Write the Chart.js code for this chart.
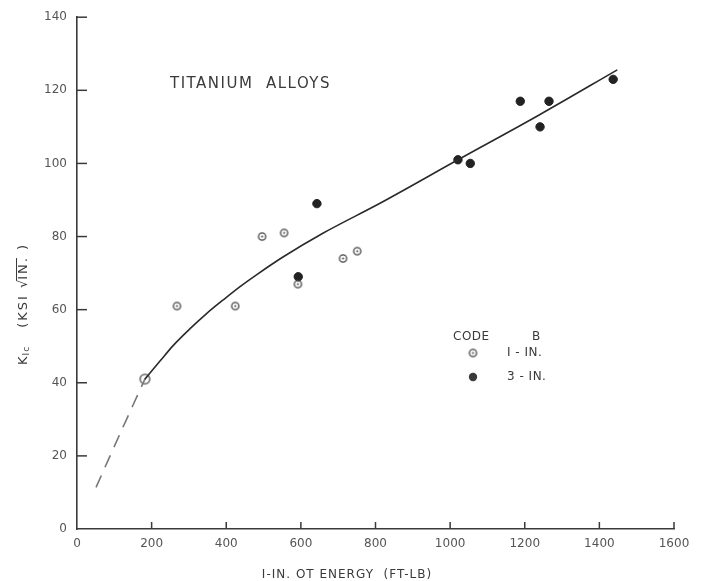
<!DOCTYPE html>
<html>
<head>
<meta charset="utf-8">
<script src="https://cdn.jsdelivr.net/npm/chart.js@4/dist/chart.umd.min.js"></script>
<style>
  html, body { margin: 0; padding: 0; background: #fff; }
  #wrap { width: 704px; height: 581px; position: relative; }
</style>
</head>
<body>
<div id="wrap"><canvas id="chart" width="704" height="581"></canvas></div>
<script>
// 1-in. specimens (open circle with dot)
const oneInX = [268, 424, 496, 555, 592, 713, 751];
const oneInY = [61, 61, 80, 81, 67, 74, 76];
// 3-in. specimens (solid)
const threeInX = [593, 643, 1021, 1054, 1188, 1241, 1265, 1437];
const threeInY = [69, 89, 101, 100, 117, 110, 117, 123];
// the low point that sits on the curve
const anchorX = [182];
const anchorY = [41];
// fitted curve (solid part) and extrapolation (dashed)
const curveX = [182, 223, 257, 303, 348, 391, 437, 482, 552, 659, 812, 1021, 1241, 1448];
const curveY = [41, 46, 50.1, 54.8, 59, 62.6, 66.3, 69.6, 74.4, 80.9, 89.1, 101, 113.4, 125.6];
const dashX = [51, 115, 182];
const dashY = [11.4, 26, 41];
const xTicks = [0, 200, 400, 600, 800, 1000, 1200, 1400, 1600];
const yTicks = [0, 20, 40, 60, 80, 100, 120, 140];

const ink = '#3a3a3a';
const labelFont = '"DejaVu Sans", sans-serif';

const pts = (xs, ys) => xs.map((x, i) => ({ x, y: ys[i] }));

// open circle with a dot in the middle
function dotCircle(r, col, lw) {
    const c = document.createElement('canvas');
    const s = Math.ceil(r * 2 + lw + 2);
    c.width = s; c.height = s;
    const g = c.getContext('2d');
    g.strokeStyle = col;
    g.lineWidth = lw;
    g.beginPath();
    g.arc(s / 2, s / 2, r, 0, Math.PI * 2);
    g.stroke();
    g.fillStyle = col;
    g.beginPath();
    g.arc(s / 2, s / 2, 1, 0, Math.PI * 2);
    g.fill();
    return c;
}
const openMark = dotCircle(3.6, '#444', 1.3);
const anchorMark = dotCircle(4.8, '#888', 2);

// inward tick marks, titles and legend text
const decor = {
    id: 'decor',
    afterDraw(chart) {
        const ctx = chart.ctx;
        const xs = chart.scales.x, ys = chart.scales.y;
        const a = chart.chartArea;
        ctx.save();
        ctx.strokeStyle = ink;
        ctx.lineWidth = 1.5;
        yTicks.forEach(v => {
            const py = ys.getPixelForValue(v);
            if (v === 0) return;
            ctx.beginPath();
            ctx.moveTo(a.left, py);
            ctx.lineTo(a.left + 10, py);
            ctx.stroke();
        });
        xTicks.forEach(v => {
            if (v === 0) return;
            const px = xs.getPixelForValue(v);
            ctx.beginPath();
            ctx.moveTo(px, a.bottom);
            ctx.lineTo(px, a.bottom - 7);
            ctx.stroke();
        });

        ctx.fillStyle = ink;
        ctx.textBaseline = 'middle';
        ctx.font = '15px ' + labelFont;
        ctx.letterSpacing = '1.5px';
        ctx.textAlign = 'left';
        ctx.fillText('TITANIUM  ALLOYS', 170, 84);

        // legend
        ctx.font = '12px ' + labelFont;
        ctx.letterSpacing = '0.5px';
        ctx.fillText('CODE', 453, 337);
        ctx.fillText('B', 532, 337);
        ctx.fillText('I - IN.', 507, 353);
        ctx.fillText('3 - IN.', 507, 377);
        const lx = 473;
        ctx.drawImage(openMark, lx - openMark.width / 2, 353 - openMark.height / 2);
        ctx.beginPath();
        ctx.arc(lx, 377, 4.2, 0, Math.PI * 2);
        ctx.fill();

        // x title
        ctx.font = '12px ' + labelFont;
        ctx.letterSpacing = '1px';
        ctx.textAlign = 'center';
        ctx.fillText('I-IN. OT ENERGY  (FT-LB)', 347, 575);

        // y title, rotated, with subscript and root sign
        ctx.translate(24, 365);
        ctx.rotate(-Math.PI / 2);
        ctx.textAlign = 'left';
        ctx.font = '13px ' + labelFont;
        ctx.letterSpacing = '1px';
        ctx.fillText('K', 0, 0);
        let w = ctx.measureText('K').width;
        ctx.font = '9px ' + labelFont;
        ctx.fillText('Ic', w, 3);
        w += ctx.measureText('Ic').width + 18;
        ctx.font = '13px ' + labelFont;
        ctx.letterSpacing = '2px';
        const s1 = '(KSI ';
        ctx.fillText(s1, w, 0);
        w += ctx.measureText(s1).width;
        const s2 = 'IN.';
        ctx.fillText('\u221A', w, 0);
        w += ctx.measureText('\u221A').width - 2;
        ctx.fillText(s2, w, 0);
        const w2 = ctx.measureText(s2).width;
        ctx.lineWidth = 1;
        ctx.beginPath();
        ctx.moveTo(w - 1, -7.5);
        ctx.lineTo(w + w2 - 2, -7.5);
        ctx.stroke();
        ctx.fillText(' )', w + w2, 0);
        ctx.restore();
    }
};

new Chart(document.getElementById('chart'), {
    type: 'scatter',
    data: {
        datasets: [
            {
                label: 'curve',
                data: pts(curveX, curveY),
                showLine: true,
                borderColor: '#2a2a2a',
                borderWidth: 1.6,
                pointRadius: 0,
                cubicInterpolationMode: 'monotone'
            },
            {
                label: 'extrapolated',
                data: pts(dashX, dashY),
                showLine: true,
                borderColor: '#777',
                borderWidth: 1.6,
                borderDash: [13, 9],
                pointRadius: 0,
                tension: 0.3
            },
            {
                label: '1-IN.',
                data: pts(oneInX, oneInY),
                pointStyle: openMark
            },
            {
                label: 'anchor',
                data: pts(anchorX, anchorY),
                pointStyle: anchorMark
            },
            {
                label: '3-IN.',
                data: pts(threeInX, threeInY),
                backgroundColor: '#222',
                borderColor: '#222',
                pointRadius: 4.2,
                pointStyle: 'circle'
            }
        ]
    },
    options: {
        responsive: false,
        animation: false,
        layout: { padding: { top: 15, right: 30, left: 0, bottom: 0 } },
        plugins: {
            legend: { display: false },
            tooltip: { enabled: false }
        },
        scales: {
            x: {
                type: 'linear',
                min: 0,
                max: 1600,
                afterFit: s => { s.height = 52; },
                afterBuildTicks: s => { s.ticks = xTicks.map(v => ({ value: v })); },
                grid: { display: false, drawTicks: false },
                border: { display: true, color: ink, width: 1.6 },
                ticks: {
                    color: '#555',
                    font: { family: labelFont, size: 12 },
                    padding: 8,
                    maxRotation: 0,
                    callback: v => String(v)
                }
            },
            y: {
                type: 'linear',
                min: 0,
                max: 140,
                afterFit: s => { s.width = 77; },
                afterBuildTicks: s => { s.ticks = yTicks.map(v => ({ value: v })); },
                grid: { display: false, drawTicks: false },
                border: { display: true, color: ink, width: 1.6 },
                ticks: {
                    color: '#555',
                    font: { family: labelFont, size: 12 },
                    padding: 10,
                    callback: v => String(v)
                }
            }
        }
    },
    plugins: [decor]
});
</script>
</body>
</html>
